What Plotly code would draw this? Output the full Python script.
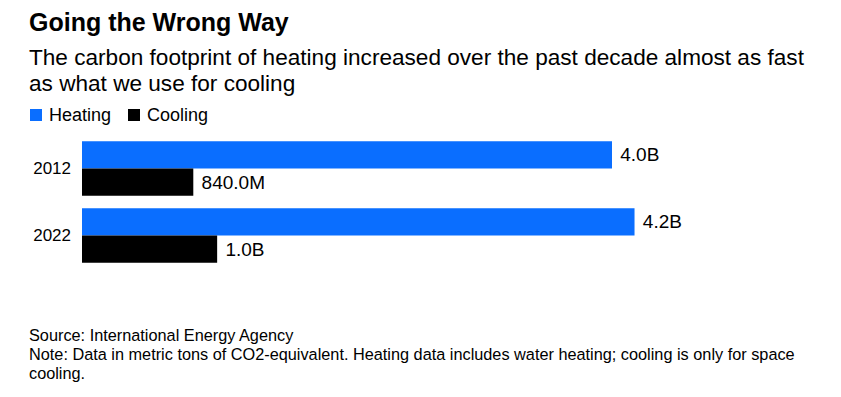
import plotly.graph_objects as go

years = ["2012", "2022"]
heating = [4.0, 4.17]
cooling = [0.84, 1.02]
series_names = ["Heating", "Cooling"]
colors = ["#0a6eff", "#000000"]

title = "Going the Wrong Way"
subtitle_lines = [
    "The carbon footprint of heating increased over the past decade almost as fast",
    "as what we use for cooling",
]
note_lines = [
    "Source: International Energy Agency",
    "Note: Data in metric tons of CO2-equivalent. Heating data includes water heating; cooling is only for space",
    "cooling.",
]


def fmt(v):
    return f"{v:.1f}B" if v >= 1 else f"{v * 1000:.1f}M"


OFF = 8  # default page body margin
W, H = 825, 381
L, R, T, B = 74, 53, 127, 120
pw, ph = W - L - R, H - T - B
px_per_unit = 132.5
FONT = "Liberation Sans, Arial, sans-serif"


def xp(px):
    return (px - OFF - L) / pw


def yp(py):
    return (H - B - (py - OFF)) / ph


fig = go.Figure()
for name, vals, col in zip(series_names, [heating, cooling], colors):
    fig.add_trace(go.Bar(
        y=years, x=vals, name=name, orientation="h",
        marker=dict(color=col, line=dict(width=0)),
        text=["\u00a0" + fmt(v) for v in vals],
        textposition="outside", cliponaxis=False,
        textfont=dict(size=19, color="#000000", family=FONT),
        showlegend=False, hoverinfo="skip",
    ))

annos = [
    dict(text=f"<b>{title}</b>", x=xp(27), y=yp(22), xanchor="left", yanchor="middle",
         font=dict(size=25, color="#000", family=FONT)),
    dict(text=subtitle_lines[0], x=xp(27), y=yp(57), xanchor="left", yanchor="middle",
         font=dict(size=22.6, color="#000", family=FONT)),
    dict(text=subtitle_lines[1], x=xp(27), y=yp(83), xanchor="left", yanchor="middle",
         font=dict(size=22.6, color="#000", family=FONT)),
    dict(text="Heating", x=xp(47), y=yp(115), xanchor="left", yanchor="middle",
         font=dict(size=18, color="#000", family=FONT)),
    dict(text="Cooling", x=xp(145), y=yp(115), xanchor="left", yanchor="middle",
         font=dict(size=18, color="#000", family=FONT)),
]
for i, line in enumerate(note_lines):
    annos.append(dict(text=line, x=xp(27), y=yp(335 + 19 * i), xanchor="left", yanchor="middle",
                      font=dict(size=16.3, color="#000", family=FONT)))
for a in annos:
    a.update(xref="paper", yref="paper", showarrow=False)

shapes = [
    dict(type="rect", xref="paper", yref="paper", x0=xp(30), x1=xp(42), y0=yp(109), y1=yp(121),
         fillcolor=colors[0], line=dict(width=0)),
    dict(type="rect", xref="paper", yref="paper", x0=xp(128), x1=xp(140), y0=yp(109), y1=yp(121),
         fillcolor=colors[1], line=dict(width=0)),
]

fig.update_layout(
    width=W, height=H,
    margin=dict(l=L, r=R, t=T, b=B),
    paper_bgcolor="white", plot_bgcolor="white",
    barmode="group", bargap=0.19, bargroupgap=0,
    annotations=annos, shapes=shapes,
    font=dict(family=FONT, color="#000"),
    xaxis=dict(range=[0, pw / px_per_unit], showgrid=False, zeroline=False,
               showticklabels=False, showline=False, fixedrange=True),
    yaxis=dict(autorange="reversed", showgrid=False, zeroline=False, showline=False,
               ticks="", ticklabelstandoff=10, tickfont=dict(size=17, color="#000", family=FONT),
               fixedrange=True),
)

fig.write_html("out.html", config={"displayModeBar": False})
